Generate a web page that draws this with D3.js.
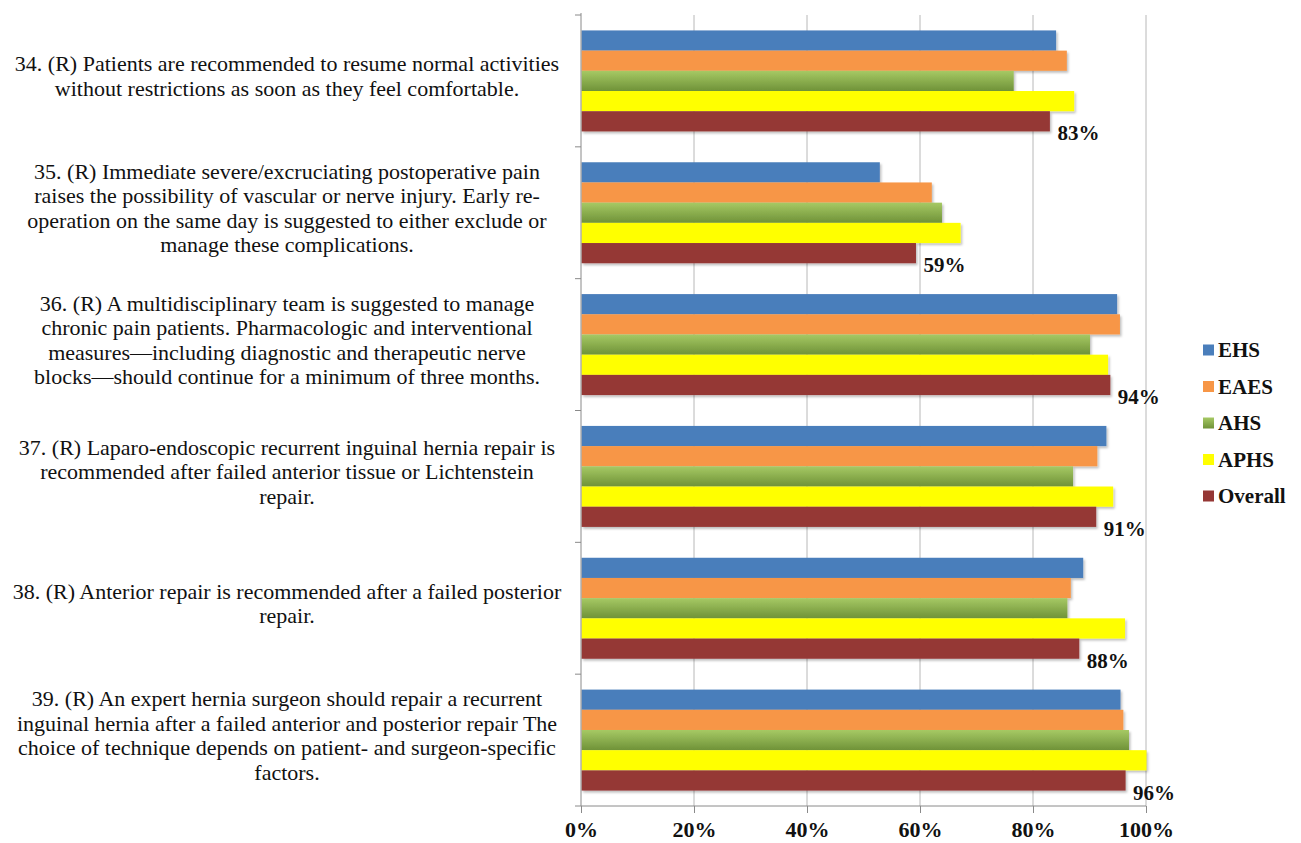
<!DOCTYPE html>
<html>
<head>
<meta charset="utf-8">
<script src="https://cdn.jsdelivr.net/npm/d3@7"></script>
<style>
  html, body { margin: 0; padding: 0; background: #fff; }
  svg { display: block; font-family: "Liberation Serif", "Times New Roman", serif; }
</style>
</head>
<body>
<svg id="chart" width="1301" height="843"></svg>
<script>
// ---- data ----
const categories = ["34", "35", "36", "37", "38", "39"];
const categoryLines = [
  ["34. (R) Patients are recommended to resume normal activities",
   "without restrictions as soon as they feel comfortable."],
  ["35. (R) Immediate severe/excruciating postoperative pain",
   "raises the possibility of vascular or nerve injury. Early re-",
   "operation on the same day is suggested to either exclude or",
   "manage these complications."],
  ["36. (R) A multidisciplinary team is suggested to manage",
   "chronic pain patients. Pharmacologic and interventional",
   "measures\u2014including diagnostic and therapeutic nerve",
   "blocks\u2014should continue for a minimum of three months."],
  ["37. (R) Laparo-endoscopic recurrent inguinal hernia repair is",
   "recommended after failed anterior tissue or Lichtenstein",
   "repair."],
  ["38. (R) Anterior repair is recommended after a failed posterior",
   "repair."],
  ["39. (R) An expert hernia surgeon should repair a recurrent",
   "inguinal hernia after a failed anterior and posterior repair The",
   "choice of technique depends on patient- and surgeon-specific",
   "factors."]
];
const seriesNames = ["EHS", "EAES", "AHS", "APHS", "Overall"];
const EHS     = [84.0, 52.8, 94.8, 92.9, 88.8, 95.4];
const EAES    = [85.9, 62.0, 95.3, 91.3, 86.6, 95.9];
const AHS     = [76.5, 63.8, 90.0, 87.0, 86.0, 96.9];
const APHS    = [87.2, 67.1, 93.2, 94.1, 96.2, 100.0];
const Overall = [82.9, 59.2, 93.6, 91.1, 88.1, 96.3];
const xTicks = [0, 20, 40, 60, 80, 100];
const seriesColors = ["#4a7ebb", "#f79646", "url(#gradGreen)", "#ffff00", "#953735"];

const seriesValues = [EHS, EAES, AHS, APHS, Overall];

// ---- layout ----
const svg = d3.select("#chart");
const mLeft = 581, mRight = 1146, mTop = 15, mBottom = 806;

const defs = svg.append("defs");
const g1 = defs.append("linearGradient").attr("id", "gradGreen").attr("x1", 0).attr("y1", 0).attr("x2", 0).attr("y2", 1);
g1.append("stop").attr("offset", "0%").attr("stop-color", "#a6c964");
g1.append("stop").attr("offset", "100%").attr("stop-color", "#6f9238");
const f = defs.append("filter").attr("id", "shadow").attr("x", "-5%").attr("y", "-20%").attr("width", "115%").attr("height", "160%");
f.append("feDropShadow").attr("dx", 1.5).attr("dy", 2).attr("stdDeviation", 1.2).attr("flood-color", "#000").attr("flood-opacity", 0.25);

const x = d3.scaleLinear().domain([0, 100]).range([mLeft, mRight]);
const y0 = d3.scaleBand().domain(categories).range([mTop, mBottom]).paddingInner(0.234).paddingOuter(0.117);
const y1 = d3.scaleBand().domain(seriesNames).range([0, y0.bandwidth()]);

// gridlines
svg.append("g").selectAll("line").data(xTicks.filter(t => t > 0)).join("line")
  .attr("x1", d => x(d)).attr("x2", d => x(d))
  .attr("y1", mTop).attr("y2", mBottom)
  .attr("stroke", "#b8b8b8").attr("stroke-width", 1);

// bars
const groups = svg.append("g").selectAll("g").data(categories).join("g")
  .attr("transform", d => `translate(0,${y0(d)})`);
groups.selectAll("rect")
  .data((c, i) => seriesNames.map((s, j) => ({ s, j, v: seriesValues[j][i] })))
  .join("rect")
  .attr("x", x(0) + 0.5)
  .attr("y", d => y1(d.s))
  .attr("width", d => x(d.v) - x(0))
  .attr("height", y1.bandwidth())
  .attr("fill", d => seriesColors[d.j])
  .attr("filter", "url(#shadow)");

// data labels for Overall
svg.append("g").selectAll("text").data(categories).join("text")
  .attr("x", (c, i) => x(Overall[i]) + 8)
  .attr("y", c => y0(c) + y1("Overall") + y1.bandwidth() + 9)
  .attr("font-size", 21).attr("font-weight", "bold").attr("fill", "#111")
  .text((c, i) => Math.round(Overall[i]) + "%");

// x axis
const xAxis = d3.axisBottom(x).tickValues(xTicks).tickFormat(d => d + "%").tickSize(7).tickPadding(8);
const gx = svg.append("g").attr("transform", `translate(0,${mBottom})`).call(xAxis);
gx.select(".domain").attr("stroke", "#8a8a8a").attr("d", `M${mLeft},0H${mRight}`);
gx.selectAll(".tick line").attr("stroke", "#8a8a8a");
gx.selectAll(".tick text").attr("font-size", 22).attr("font-weight", "bold").attr("fill", "#111")
  .attr("font-family", "Liberation Serif, serif");

// y axis line and boundary ticks
const yEdges = d3.scaleLinear().domain([0, categories.length]).range([mTop, mBottom]);
svg.append("line").attr("x1", mLeft).attr("x2", mLeft).attr("y1", mTop - 2).attr("y2", mBottom)
  .attr("stroke", "#8a8a8a");
svg.append("g").selectAll("line").data(d3.range(categories.length + 1)).join("line")
  .attr("x1", mLeft - 6).attr("x2", mLeft)
  .attr("y1", d => yEdges(d)).attr("y2", d => yEdges(d))
  .attr("stroke", "#8a8a8a");

// category labels
const lineH = 24.5;
const labG = svg.append("g");
categories.forEach((c, i) => {
  const lines = categoryLines[i];
  const cy = y0(c) + y0.bandwidth() / 2 - 5;
  const startY = cy - (lines.length - 1) * lineH / 2;
  const t = labG.append("text").attr("text-anchor", "middle").attr("font-size", 22).attr("fill", "#111");
  lines.forEach((ln, k) => {
    t.append("tspan").attr("x", 287).attr("y", startY + k * lineH).attr("dy", "0.35em").text(ln);
  });
});

// legend
const lg = svg.append("g").attr("transform", "translate(1203,350)");
const items = lg.selectAll("g").data(seriesNames).join("g")
  .attr("transform", (d, i) => `translate(0,${i * 36.5})`);
items.append("rect").attr("width", 11).attr("height", 11).attr("y", -5.5)
  .attr("fill", (d, i) => seriesColors[i]);
items.append("text").attr("x", 15).attr("dy", "0.35em").attr("font-size", 21).attr("font-weight", "bold")
  .attr("fill", "#111").text(d => d);
</script>
</body>
</html>
